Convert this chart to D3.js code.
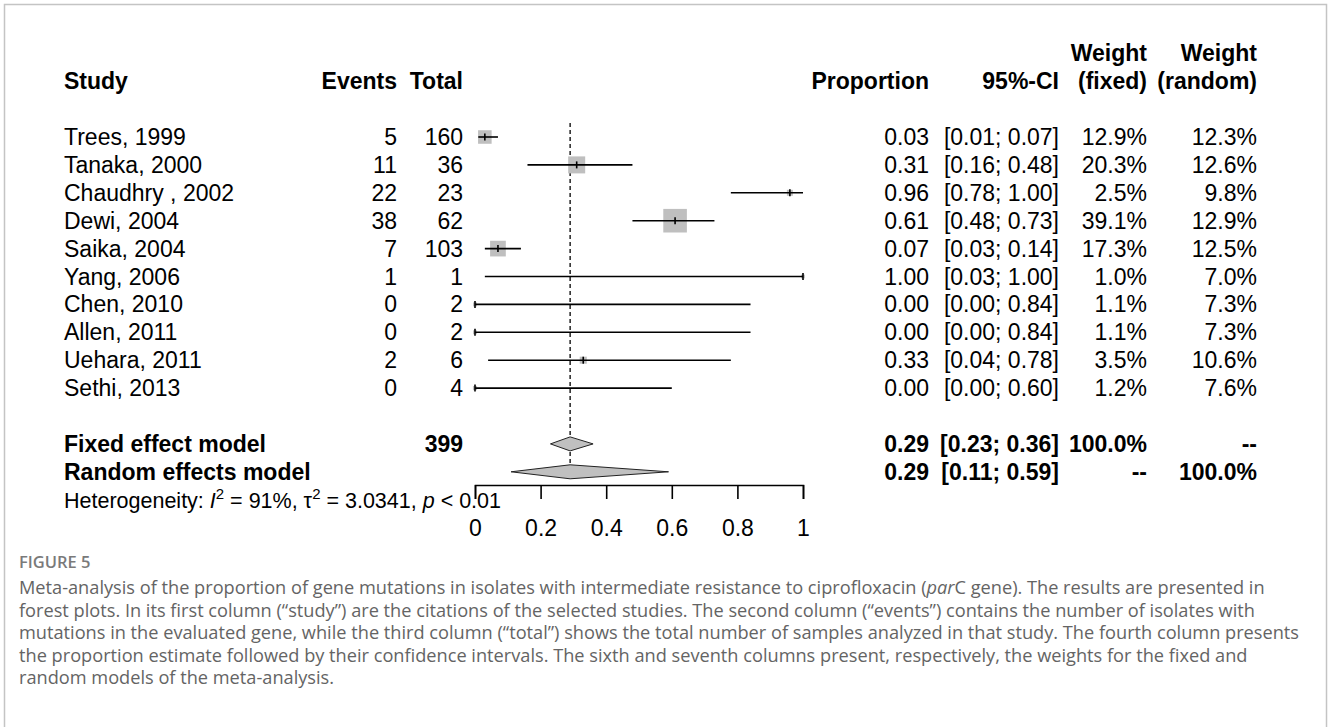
<!DOCTYPE html>
<meta charset="utf-8">
<style>
body { margin: 0; background: #fff; }
svg { display: block; font-family: "Liberation Sans", Arial, sans-serif; }
.txt { font-size: 23px; fill: #000; }
.bold { font-weight: bold; }
.ci { stroke: #000; stroke-width: 1.6px; }
.est { stroke: #000; stroke-width: 1.6px; }
.caption { font-family: "Open Sans", sans-serif; font-size: 18.2px; fill: #646464; }
</style>
<script src="https://cdn.jsdelivr.net/npm/d3@7"></script>
<body>
<script>

// study rows
var studies = ["Trees, 1999", "Tanaka, 2000", "Chaudhry , 2002", "Dewi, 2004", "Saika, 2004",
               "Yang, 2006", "Chen, 2010", "Allen, 2011", "Uehara, 2011", "Sethi, 2013"];
var events  = [5, 11, 22, 38, 7, 1, 0, 0, 2, 0];
var totals  = [160, 36, 23, 62, 103, 1, 2, 2, 6, 4];
var props   = [0.03, 0.31, 0.96, 0.61, 0.07, 1.00, 0.00, 0.00, 0.33, 0.00];
var lower   = [0.01, 0.16, 0.78, 0.48, 0.03, 0.03, 0.00, 0.00, 0.04, 0.00];
var upper   = [0.07, 0.48, 1.00, 0.73, 0.14, 1.00, 0.84, 0.84, 0.78, 0.60];
var wFixed  = [12.9, 20.3, 2.5, 39.1, 17.3, 1.0, 1.1, 1.1, 3.5, 1.2];
var wRandom = [12.3, 12.6, 9.8, 12.9, 12.5, 7.0, 7.3, 7.3, 10.6, 7.6];

// pooled models
var models      = ["Fixed effect model", "Random effects model"];
var modelTotal  = [399, null];
var modelEst    = [0.29, 0.29];
var modelLower  = [0.23, 0.11];
var modelUpper  = [0.36, 0.59];
var modelWFixed = ["100.0%", "--"];
var modelWRand  = ["--", "100.0%"];

var axisTicks = [0, 0.2, 0.4, 0.6, 0.8, 1];

var captionLines = [
  "Meta-analysis of the proportion of gene mutations in isolates with intermediate resistance to ciprofloxacin (|par|C gene). The results are presented in",
  "forest plots. In its first column (\u201cstudy\u201d) are the citations of the selected studies. The second column (\u201cevents\u201d) contains the number of isolates with",
  "mutations in the evaluated gene, while the third column (\u201ctotal\u201d) shows the total number of samples analyzed in that study. The fourth column presents",
  "the proportion estimate followed by their confidence intervals. The sixth and seventh columns present, respectively, the weights for the fixed and",
  "random models of the meta-analysis."
];

var width = 1328, height = 727;

var svg = d3.select("body").append("svg")
    .attr("width", width)
    .attr("height", height);

svg.append("rect")
    .attr("x", 4.5).attr("y", 4.5)
    .attr("width", 1322).attr("height", 760)
    .attr("fill", "none")
    .attr("stroke", "#c4c4c4")
    .attr("stroke-width", 1.5);

var x = d3.scaleLinear().domain([0, 1]).range([475, 803]);
var row = d3.scaleLinear().domain([0, 1]).range([137, 164.9]);  // row index -> y center
var box = d3.scaleSqrt().domain([0, 39.1]).range([0, 23.6]);

var base = 8;  // baseline offset from row center
var fmt2 = d3.format(".2f");
var pct = function(d) { return d.toFixed(1) + "%"; };

function column(data, xpos, anchor, startRow, bold) {
  svg.append("g").selectAll("text")
    .data(data)
    .enter().append("text")
      .attr("class", "txt" + (bold ? " bold" : ""))
      .attr("x", xpos)
      .attr("y", function(d, i) { return row(startRow + i) + base; })
      .attr("text-anchor", anchor)
      .text(function(d) { return d; });
}

// headers
var hdr = svg.append("g").attr("class", "txt bold");
hdr.append("text").attr("x", 64).attr("y", row(-2) + base).text("Study");
hdr.append("text").attr("x", 397).attr("y", row(-2) + base).attr("text-anchor", "end").text("Events");
hdr.append("text").attr("x", 463).attr("y", row(-2) + base).attr("text-anchor", "end").text("Total");
hdr.append("text").attr("x", 929).attr("y", row(-2) + base).attr("text-anchor", "end").text("Proportion");
hdr.append("text").attr("x", 1059).attr("y", row(-2) + base).attr("text-anchor", "end").text("95%-CI");
hdr.append("text").attr("x", 1147).attr("y", row(-3) + base).attr("text-anchor", "end").text("Weight");
hdr.append("text").attr("x", 1147).attr("y", row(-2) + base).attr("text-anchor", "end").text("(fixed)");
hdr.append("text").attr("x", 1257).attr("y", row(-3) + base).attr("text-anchor", "end").text("Weight");
hdr.append("text").attr("x", 1257).attr("y", row(-2) + base).attr("text-anchor", "end").text("(random)");

// study columns
column(studies, 64, "start", 0);
column(events, 397, "end", 0);
column(totals, 463, "end", 0);
column(props.map(fmt2), 929, "end", 0);
column(lower.map(function(d, i) { return "[" + fmt2(d) + "; " + fmt2(upper[i]) + "]"; }), 1059, "end", 0);
column(wFixed.map(pct), 1147, "end", 0);
column(wRandom.map(pct), 1257, "end", 0);

// model columns
column(models, 64, "start", 11, true);
column(modelTotal.map(function(d) { return d == null ? "" : d; }), 463, "end", 11, true);
column(modelEst.map(fmt2), 929, "end", 11, true);
column(modelLower.map(function(d, i) { return "[" + fmt2(d) + "; " + fmt2(modelUpper[i]) + "]"; }), 1059, "end", 11, true);
column(modelWFixed, 1147, "end", 11, true);
column(modelWRand, 1257, "end", 11, true);

// reference line at the fixed estimate
svg.append("line")
    .attr("x1", x(modelEst[0])).attr("x2", x(modelEst[0]))
    .attr("y1", row(-0.5)).attr("y2", row(12) - 7)
    .attr("stroke", "#000")
    .attr("stroke-width", 1.3)
    .attr("stroke-dasharray", "4,3");

// boxes
svg.append("g").selectAll("rect")
    .data(props)
    .enter().append("rect")
      .attr("x", function(d, i) { return x(d) - box(wFixed[i]) / 2; })
      .attr("y", function(d, i) { return row(i) - box(wFixed[i]) / 2; })
      .attr("width", function(d, i) { return box(wFixed[i]); })
      .attr("height", function(d, i) { return box(wFixed[i]); })
      .attr("fill", "#bfbfbf");

// confidence intervals
svg.append("g").selectAll("line")
    .data(lower)
    .enter().append("line")
      .attr("class", "ci")
      .attr("x1", function(d) { return x(d); })
      .attr("x2", function(d, i) { return x(upper[i]); })
      .attr("y1", function(d, i) { return row(i); })
      .attr("y2", function(d, i) { return row(i); });

// point estimate ticks
svg.append("g").selectAll("line")
    .data(props)
    .enter().append("line")
      .attr("class", "est")
      .attr("x1", function(d) { return x(d); })
      .attr("x2", function(d) { return x(d); })
      .attr("y1", function(d, i) { return row(i) - 3.5; })
      .attr("y2", function(d, i) { return row(i) + 3.5; });

// diamonds
svg.append("g").selectAll("path")
    .data(modelEst)
    .enter().append("path")
      .attr("d", function(d, i) {
        var yc = row(11 + i), h = 7;
        return "M" + x(modelLower[i]) + "," + yc +
               "L" + x(d) + "," + (yc - h) +
               "L" + x(modelUpper[i]) + "," + yc +
               "L" + x(d) + "," + (yc + h) + "Z";
      })
      .attr("fill", "#c0c0c0")
      .attr("stroke", "#222")
      .attr("stroke-width", 1);

// axis
var axis = d3.axisBottom(x)
    .tickValues(axisTicks)
    .tickFormat(d3.format(""))
    .tickSize(14)
    .tickSizeOuter(14)
    .tickPadding(21);

var ax = svg.append("g")
    .attr("transform", "translate(0,485)")
    .call(axis);
ax.selectAll("path, line").attr("stroke", "#000").attr("stroke-width", 1.6);
ax.selectAll("text")
    .attr("font-family", "'Liberation Sans', Arial, sans-serif")
    .attr("font-size", 23)
    .attr("fill", "#000");

// heterogeneity
var het = svg.append("text")
    .attr("class", "txt")
    .style("font-size", "21.5px")
    .attr("x", 64)
    .attr("y", row(13) + base);
het.append("tspan").text("Heterogeneity: ");
het.append("tspan").attr("font-style", "italic").text("I");
het.append("tspan").style("font-size", "15px").attr("dy", -9).text("2");
het.append("tspan").attr("dy", 9).text(" = 91%, \u03c4");
het.append("tspan").style("font-size", "15px").attr("dy", -9).text("2");
het.append("tspan").attr("dy", 9).text(" = 3.0341, ");
het.append("tspan").attr("font-style", "italic").text("p");
het.append("tspan").text(" < 0.01");

// caption
svg.append("text")
    .attr("x", 19)
    .attr("y", 568)
    .attr("font-family", "'Open Sans', sans-serif")
    .attr("font-size", 16.5)
    .attr("font-weight", 600)
    .attr("fill", "#7a7a7a")
    .text("FIGURE 5");

var cap = svg.append("g").selectAll("text")
    .data(captionLines)
    .enter().append("text")
      .attr("class", "caption")
      .attr("x", 19)
      .attr("y", function(d, i) { return 594 + i * 22.5; });

cap.each(function(d) {
  var t = d3.select(this);
  d.split("|").forEach(function(part, k) {
    t.append("tspan")
      .attr("font-style", k % 2 ? "italic" : null)
      .text(part);
  });
});

</script>
</body>
